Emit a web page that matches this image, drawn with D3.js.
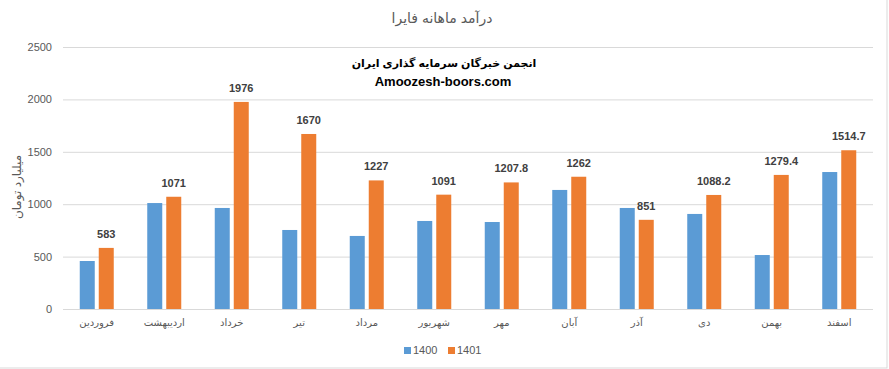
<!DOCTYPE html>
<html>
<head>
<meta charset="utf-8">
<script src="https://cdn.jsdelivr.net/npm/d3@7"></script>
<style>
  body { margin: 0; background: #fff; }
  text { font-family: "Liberation Sans", "DejaVu Sans", sans-serif; }
</style>
</head>
<body>
<svg id="chart" width="889" height="369"></svg>
<script>
// months, drawn left to right as in the picture
const months = ["فروردین", "اردیبهشت", "خرداد", "تیر", "مرداد", "شهریور", "مهر", "آبان", "آذر", "دی", "بهمن", "اسفند"];
const seriesNames = ["1400", "1401"];
const values1400 = [458, 1011, 964, 754, 697, 840, 830, 1136, 964, 907, 515, 1307];
const values1401 = [583, 1071, 1976, 1670, 1227, 1091, 1207.8, 1262, 851, 1088.2, 1279.4, 1514.7];
const yTicks = [0, 500, 1000, 1500, 2000, 2500];

const colors = { "1400": "#5b9bd5", "1401": "#ed7d31" };

const svg = d3.select("#chart");

const plot = { left: 63, right: 873, top: 47, bottom: 309 };

// outer frame
svg.append("rect")
  .attr("x", -1).attr("y", -1)
  .attr("width", 888).attr("height", 369)
  .attr("fill", "none")
  .attr("stroke", "#d9d9d9");

const step = (plot.right - plot.left) / months.length;
const groupW = 34;
const pad = 1 - groupW / step;

const x0 = d3.scaleBand()
  .domain(months)
  .range([plot.left, plot.right])
  .paddingInner(pad)
  .paddingOuter(pad / 2);

const x1 = d3.scaleBand()
  .domain(seriesNames)
  .range([0, x0.bandwidth()])
  .paddingInner(4 / 19);

const y = d3.scaleLinear()
  .domain([0, 2500])
  .range([plot.bottom, plot.top]);

// gridlines + y tick labels
const yAxis = d3.axisLeft(y)
  .tickValues(yTicks)
  .tickFormat(d3.format("d"))
  .tickSize(-(plot.right - plot.left))
  .tickPadding(11);

const gy = svg.append("g")
  .attr("transform", `translate(${plot.left},0)`)
  .call(yAxis);
gy.select(".domain").remove();
gy.selectAll(".tick line").attr("stroke", "#d9d9d9");
gy.selectAll(".tick text")
  .attr("fill", "#595959")
  .style("font-size", "11px");

// x labels
const xAxis = d3.axisBottom(x0).tickSize(0).tickPadding(10);
const gx = svg.append("g")
  .attr("transform", `translate(0,${plot.bottom})`)
  .call(xAxis);
gx.select(".domain").remove();
gx.selectAll(".tick text")
  .attr("fill", "#595959")
  .style("font-size", "10px");

// bars
const rows = months.map((m, i) => ({ month: m, "1400": values1400[i], "1401": values1401[i] }));

const groups = svg.append("g")
  .selectAll("g")
  .data(rows)
  .join("g")
  .attr("transform", d => `translate(${x0(d.month)},0)`);

groups.selectAll("rect")
  .data(d => seriesNames.map(s => ({ key: s, value: d[s] })))
  .join("rect")
  .attr("x", d => x1(d.key))
  .attr("y", d => y(d.value))
  .attr("width", x1.bandwidth())
  .attr("height", d => y(0) - y(d.value))
  .attr("fill", d => colors[d.key]);

// data labels for 1401
groups.append("text")
  .attr("x", x1("1401") + x1.bandwidth() / 2)
  .attr("y", d => y(d["1401"]) - 10)
  .attr("text-anchor", "middle")
  .attr("fill", "#404040")
  .style("font-size", "11px")
  .style("font-weight", "bold")
  .text(d => d["1401"]);

// title
svg.append("text")
  .attr("x", 442).attr("y", 23)
  .attr("text-anchor", "middle")
  .attr("fill", "#595959")
  .style("font-size", "14px")
  .text("درآمد ماهانه فایرا");

// watermark
svg.append("text")
  .attr("x", 444).attr("y", 67)
  .attr("text-anchor", "middle")
  .attr("fill", "#000")
  .style("font-size", "11px")
  .style("font-weight", "bold")
  .text("انجمن خبرگان سرمایه گذاری ایران");

svg.append("text")
  .attr("x", 443).attr("y", 86)
  .attr("text-anchor", "middle")
  .attr("fill", "#000")
  .style("font-size", "13px")
  .style("font-weight", "bold")
  .text("Amoozesh-boors.com");

// y axis title
svg.append("text")
  .attr("transform", "translate(21,187) rotate(-90)")
  .attr("text-anchor", "middle")
  .attr("fill", "#595959")
  .style("font-size", "12px")
  .text("میلیارد تومان");

// legend
const legend = svg.append("g")
  .selectAll("g")
  .data(seriesNames)
  .join("g")
  .attr("transform", (d, i) => `translate(${404 + i * 44},347)`);

legend.append("rect")
  .attr("width", 7).attr("height", 7)
  .attr("fill", d => colors[d]);

legend.append("text")
  .attr("x", 9).attr("y", 7)
  .attr("fill", "#595959")
  .style("font-size", "11px")
  .text(d => d);
</script>
</body>
</html>
